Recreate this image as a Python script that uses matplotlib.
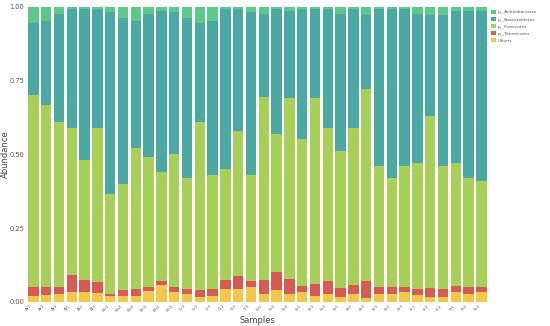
import matplotlib
matplotlib.use('Agg')
import matplotlib.pyplot as plt
from matplotlib.patches import Patch

groups = ['Ar', 'Al', 'Bb', 'Bh', 'Cr', 'Ct', 'Er', 'Et', 'Kr', 'Kt', 'Fr', 'Ft']
samples = [g + str(k) for g in groups for k in (1, 2, 3)]

# relative abundance (%) per sample, bottom to top of the stack
others = [2.0, 2.3, 2.6, 3.2, 3.5, 3.0, 2.0, 2.0, 2.0, 3.7, 5.7, 3.2,
          2.8, 1.5, 2.0, 4.5, 4.5, 5.0, 2.8, 4.0, 2.6, 3.2, 2.0, 2.8,
          1.5, 2.6, 1.2, 2.8, 2.8, 3.2, 2.4, 1.7, 1.5, 3.4, 2.6, 3.2]
tenericutes = [2.9, 2.9, 2.3, 5.8, 3.8, 3.6, 0.8, 2.0, 2.2, 1.3, 1.4, 1.7,
               1.5, 2.5, 2.3, 2.8, 4.1, 2.1, 4.5, 6.0, 5.1, 2.2, 4.2, 4.3,
               3.1, 3.0, 5.9, 2.1, 2.1, 1.7, 1.9, 2.9, 3.0, 2.0, 2.3, 1.7]
firmicutes = [65.1, 61.5, 56.1, 50.0, 40.7, 52.4, 33.6, 36.0, 47.8, 44.0, 36.9, 45.1,
              37.7, 57.0, 38.7, 37.7, 49.4, 35.9, 62.1, 47.0, 61.3, 49.6, 62.8, 51.9,
              46.4, 53.4, 64.9, 41.1, 37.1, 41.1, 42.7, 58.4, 41.5, 41.6, 37.1, 36.1]
bacteroidetes = [24.5, 28.3, 36.5, 40.0, 51.0, 40.0, 61.6, 56.0, 43.0, 48.5, 54.5, 48.0,
                 54.0, 33.5, 52.0, 54.0, 41.0, 55.0, 28.1, 42.0, 29.5, 44.0, 30.0, 40.0,
                 46.5, 40.0, 25.0, 53.0, 57.0, 53.0, 50.5, 34.0, 51.0, 51.5, 56.5, 57.5]
actinobacteria = [5.5, 5.0, 2.5, 1.0, 1.0, 1.0, 2.0, 4.0, 5.0, 2.5, 1.5, 2.0,
                  4.0, 5.5, 5.0, 1.0, 1.0, 2.0, 2.5, 1.0, 1.5, 1.0, 1.0, 1.0,
                  2.5, 1.0, 3.0, 1.0, 1.0, 1.0, 2.5, 3.0, 3.0, 1.5, 1.5, 1.5]

layers = [('Others', others, '#f3c84a'),
          ('p__Tenericutes', tenericutes, '#d75b52'),
          ('p__Firmicutes', firmicutes, '#a8cf58'),
          ('p__Bacteroidetes', bacteroidetes, '#4ba8a2'),
          ('p__Actinobacteria', actinobacteria, '#5cc98a')]

fig = plt.figure(figsize=(5.5, 3.26), dpi=100)
ax = fig.add_axes([0.049, 0.074, 0.838, 0.906])

x = list(range(len(samples)))
bottom = [0.0] * len(samples)
for name, vals, color in layers:
    h = [v / 100 for v in vals]
    ax.bar(x, h, bottom=bottom, width=0.82, color=color, linewidth=0)
    bottom = [b + v for b, v in zip(bottom, h)]

ax.set_xlim(-0.5, len(samples) - 0.5)
ax.set_ylim(0, 1.0)
ax.set_yticks([0, 0.25, 0.5, 0.75, 1.0])
ax.set_yticklabels(['0.00', '0.25', '0.50', '0.75', '1.00'])
ax.set_xticks(x)
ax.set_xticklabels(samples, rotation=45, ha='right', fontsize=3.2, color='#666666')
ax.tick_params(axis='y', labelsize=4.8, colors='#555555', length=0, pad=2)
ax.tick_params(axis='x', length=0, pad=1.5)
for s in ax.spines.values():
    s.set_visible(False)

ax.set_xlabel('Samples', fontsize=6, color='#444444', labelpad=2)
ax.set_ylabel('Abundance', fontsize=6, color='#444444')
ax.yaxis.set_label_coords(-0.036, 0.5)

handles = [Patch(facecolor=c, edgecolor='none', label=n) for n, _, c in layers[::-1]]
fig.legend(handles=handles, loc='upper left', bbox_to_anchor=(0.893, 0.97),
           frameon=False, fontsize=3.2, handlelength=1.1, handleheight=1.1,
           handletextpad=0.4, labelspacing=0.55, labelcolor='#555555',
           borderaxespad=0, borderpad=0)

fig.savefig('out.png', dpi=100)
